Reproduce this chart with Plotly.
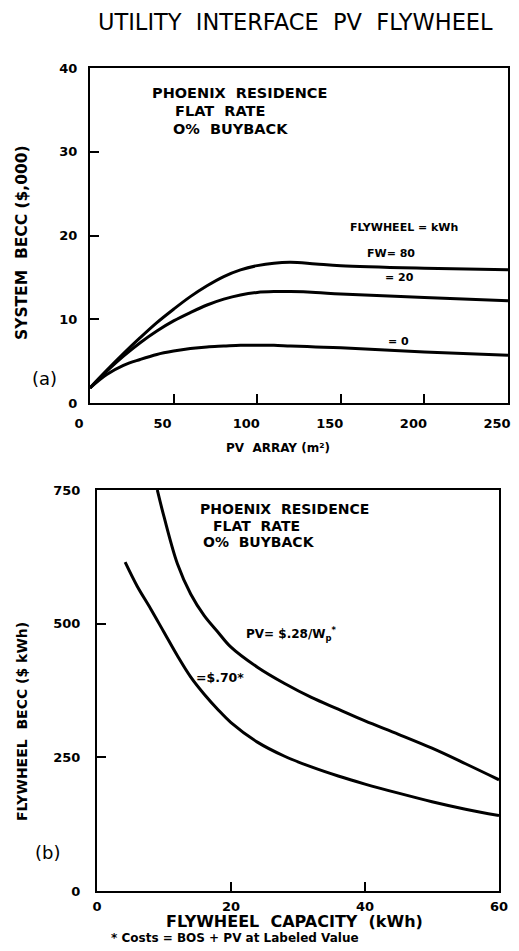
import plotly.graph_objects as go

# page has an 8px body margin; figure fills the rest of the 519x951 window
OFF = 8
W, H = 519 - OFF, 951 - OFF

# ---- data: panel (a) ----
pv_area = [0, 10, 20, 30, 40, 50, 60, 70, 80, 90, 100, 110, 120, 135, 150, 200, 250]
becc_fw80 = [1.8, 3.9, 5.9, 7.8, 9.6, 11.2, 12.7, 14.0, 15.1, 15.9, 16.4, 16.7, 16.8, 16.6, 16.4, 16.1, 15.9]
becc_fw20 = [1.8, 3.8, 5.6, 7.2, 8.6, 9.8, 10.8, 11.7, 12.4, 12.9, 13.2, 13.3, 13.3, 13.2, 13.0, 12.6, 12.2]
becc_fw0 = [1.8, 3.4, 4.5, 5.2, 5.8, 6.2, 6.5, 6.7, 6.8, 6.9, 6.9, 6.9, 6.8, 6.7, 6.6, 6.1, 5.7]

# ---- data: panel (b) ----
fw_cap_28 = [9, 10, 12, 14, 16, 18, 20, 24, 28, 32, 36, 40, 45, 50, 55, 60]
becc_pv28 = [750, 700, 612, 555, 515, 485, 456, 418, 388, 362, 340, 318, 293, 267, 238, 208]
fw_cap_70 = [4.2, 6, 8, 10, 12, 14, 16, 18, 20, 24, 28, 32, 36, 40, 45, 50, 55, 60]
becc_pv70 = [615, 570, 528, 484, 440, 400, 368, 340, 315, 278, 252, 232, 215, 200, 183, 167, 153, 141]

a_xticks = [0, 50, 100, 150, 200, 250]
a_yticks = [0, 10, 20, 30, 40]
b_xticks = [0, 20, 40, 60]
b_yticks = [0, 250, 500, 750]


def px(x):
    return (x - OFF) / W


def py(y):
    return 1 - (y - OFF) / H


fig = go.Figure()
for yv in (becc_fw80, becc_fw20, becc_fw0):
    fig.add_trace(go.Scatter(x=pv_area, y=yv, mode="lines",
                             line=dict(color="black", width=3, shape="spline", smoothing=1.0),
                             xaxis="x", yaxis="y", showlegend=False, hoverinfo="skip"))
for xv, yv in ((fw_cap_28, becc_pv28), (fw_cap_70, becc_pv70)):
    fig.add_trace(go.Scatter(x=xv, y=yv, mode="lines",
                             line=dict(color="black", width=3, shape="spline", smoothing=1.0),
                             xaxis="x2", yaxis="y2", showlegend=False, hoverinfo="skip"))

FONT = "DejaVu Sans"
tickfont = dict(family=FONT, size=13, color="black", weight="bold")
common = dict(showgrid=False, zeroline=False, showline=True, linecolor="black", linewidth=2,
              mirror=True, ticks="inside", ticklen=9, tickwidth=2, tickcolor="black",
              tickfont=tickfont, automargin=False)

fig.update_layout(
    width=W, height=H,
    margin=dict(l=0, r=0, t=0, b=0, autoexpand=False),
    paper_bgcolor="white", plot_bgcolor="white",
    xaxis=dict(domain=[px(90), px(508)], range=[0, 250], tickvals=a_xticks,
               anchor="y", ticklabelstandoff=7, ticklabelshift=-11, **common),
    yaxis=dict(domain=[py(403), py(68)], range=[0, 40], tickvals=a_yticks,
               anchor="x", ticklabelstandoff=8, **common),
    xaxis2=dict(domain=[px(97), px(499)], range=[0, 60], tickvals=b_xticks,
                anchor="y2", ticklabelstandoff=2, **common),
    yaxis2=dict(domain=[py(891), py(490)], range=[0, 750], tickvals=b_yticks,
                anchor="x2", ticklabelstandoff=12, **common),
)


def txt(s, x, y, size=13, bold=True, xanchor="center", angle=0, family=FONT):
    fig.add_annotation(text=s, x=px(x), y=py(y), xref="paper", yref="paper",
                       xanchor=xanchor, yanchor="middle", showarrow=False, textangle=angle,
                       borderpad=0,
                       font=dict(family=family, size=size, color="black",
                                 weight="bold" if bold else "normal"))


txt("UTILITY  INTERFACE  PV  FLYWHEEL", 295, 22, size=22.5, bold=False)

# panel (a)
txt("PHOENIX  RESIDENCE", 151, 93, size=14.5, xanchor="left")
txt("FLAT  RATE", 174, 111, size=14.5, xanchor="left")
txt("O%  BUYBACK", 172, 129, size=14.5, xanchor="left")
txt("FLYWHEEL = kWh", 404, 227, size=11)
txt("FW= 80", 391, 253, size=11)
txt("= 20", 399, 277, size=11)
txt("= 0", 398, 341, size=11)
txt("SYSTEM  BECC ($,000)", 22, 243, size=15.5, angle=-90)
txt("(a)", 44, 378, size=18, bold=False)
txt("PV  ARRAY (m²)", 278, 448, size=12)

# panel (b)
txt("PHOENIX  RESIDENCE", 199, 509, size=14, xanchor="left")
txt("FLAT  RATE", 212, 525.5, size=14, xanchor="left")
txt("O%  BUYBACK", 202, 542, size=14, xanchor="left")
txt("PV= $.28/W<sub>p</sub><sup>*</sup>", 245, 634, size=12, xanchor="left")
txt("=$.70*", 195, 677, size=12.5, xanchor="left")
txt("FLYWHEEL  BECC ($ kWh)", 22, 722, size=14, angle=-90)
txt("(b)", 47, 852, size=18, bold=False)
txt("FLYWHEEL  CAPACITY  (kWh)", 294, 921, size=16)
txt("* Costs = BOS + PV at Labeled Value", 235, 938, size=12)

fig.write_html("out.html")
